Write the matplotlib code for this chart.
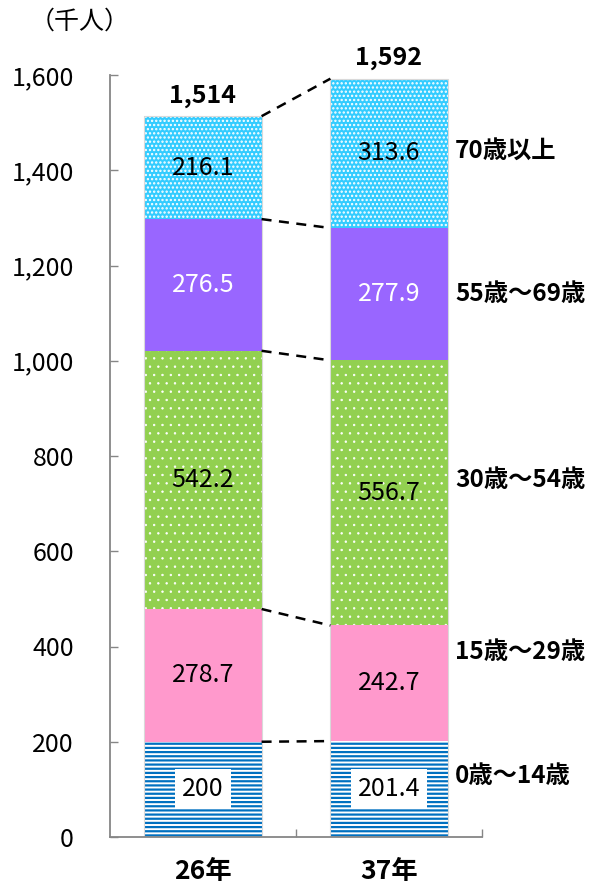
import numpy as np
import matplotlib
matplotlib.use("Agg")
import matplotlib.pyplot as plt
from matplotlib.ticker import FuncFormatter

plt.rcParams['font.family'] = ['Noto Sans CJK JP', 'DejaVu Sans']

years = ['26年', '37年']
groups = ['0歳～14歳', '15歳～29歳', '30歳～54歳', '55歳～69歳', '70歳以上']
pop_0_14 = [200.0, 201.4]
pop_15_29 = [278.7, 242.7]
pop_30_54 = [542.2, 556.7]
pop_55_69 = [276.5, 277.9]
pop_70 = [216.1, 313.6]
totals = [1514, 1592]
y_ticks = [0, 200, 400, 600, 800, 1000, 1200, 1400, 1600]

series = [pop_0_14, pop_15_29, pop_30_54, pop_55_69, pop_70]

# face colour, hatch, hatch colour, hatch linewidth, label colour, boxed label
styles = [
    ('white', '----', '#0070C0', 1.6, 'black', True),
    ('#FF99CC', None, None, 1.0, 'black', False),
    ('#92D050', '..', 'white', 0.5, 'black', False),
    ('#9966FF', None, None, 1.0, 'white', False),
    ('#33CCFF', '....', 'white', 1.1, 'black', False),
]
group_label_y = [128, 389, 749, 1140, 1440]

fig = plt.figure(figsize=(5.99, 8.91), dpi=100)
ax = fig.add_axes([110 / 599, 54 / 891, 372 / 599, 762 / 891])

x = np.arange(len(years))
width = 0.63
bottom = np.zeros(len(years))
levels = [bottom.copy()]
for vals, (fc, hatch, hc, hlw, tc, boxed) in zip(series, styles):
    vals = np.array(vals)
    with plt.rc_context({'hatch.linewidth': hlw}):
        if hatch:
            # hatch takes the edge colour, so the outline is switched off
            bars = ax.bar(x, vals, width, bottom=bottom, color=fc,
                          edgecolor=hc, linewidth=0, hatch=hatch, zorder=2)
        else:
            bars = ax.bar(x, vals, width, bottom=bottom, color=fc,
                          linewidth=0, zorder=2)
    if hatch and hasattr(bars[0], 'set_hatch_linewidth'):
        for b in bars:
            b.set_hatch_linewidth(hlw)
    for xi, v, b0 in zip(x, vals, bottom):
        kw = {}
        if boxed:
            kw['bbox'] = dict(facecolor='white', edgecolor='none', pad=5)
        ax.text(xi, b0 + v / 2, f'{v:g}', ha='center', va='center',
                fontsize=18, color=tc, zorder=4, **kw)
    bottom = bottom + vals
    levels.append(bottom.copy())

# thin grey outline round each stacked column
for xi, top in zip(x, bottom):
    ax.bar(xi, top, width, fill=False, edgecolor='#D9D9D9', linewidth=0.8,
           zorder=2.5)

# dashed connectors between the segment boundaries of the two bars
for lv in levels[1:]:
    ax.plot([x[0] + width / 2, x[1] - width / 2], [lv[0], lv[1]],
            color='black', linestyle=(0, (4, 3)), linewidth=1.8, zorder=3)

for xi, t, top in zip(x, totals, bottom):
    ax.annotate(f'{t:,}', (xi, top), xytext=(0, 6), textcoords='offset points',
                ha='center', va='bottom', fontsize=18, fontweight='bold')

for name, gy in zip(groups, group_label_y):
    ax.text(x[1] + width / 2 + 0.04, gy, name, ha='left', va='center',
            fontsize=17.5, fontweight='bold', clip_on=False)

ax.set_xlim(-0.5, 1.5)
ax.set_ylim(0, 1600)
ax.set_yticks(y_ticks)
ax.yaxis.set_major_formatter(FuncFormatter(lambda v, p: f'{int(v):,}'))
ax.tick_params(axis='y', direction='in', length=6, width=1, color='#868686',
               labelsize=18, pad=26)

ax.set_xticks(x)
ax.set_xticklabels(years, fontsize=19, fontweight='bold')
ax.tick_params(axis='x', which='major', length=0, pad=15)
ax.set_xticks([0.5, 1.5], minor=True)
ax.tick_params(axis='x', which='minor', direction='in', length=6, width=1,
               color='#868686')

for s in ['top', 'right']:
    ax.spines[s].set_visible(False)
for s in ['left', 'bottom']:
    ax.spines[s].set_color('#868686')
    ax.spines[s].set_linewidth(1.3)

fig.text(30 / 599, 1 - 22 / 891, '（千人）', ha='left', va='center', fontsize=18)

fig.savefig('out.png', dpi=100)
